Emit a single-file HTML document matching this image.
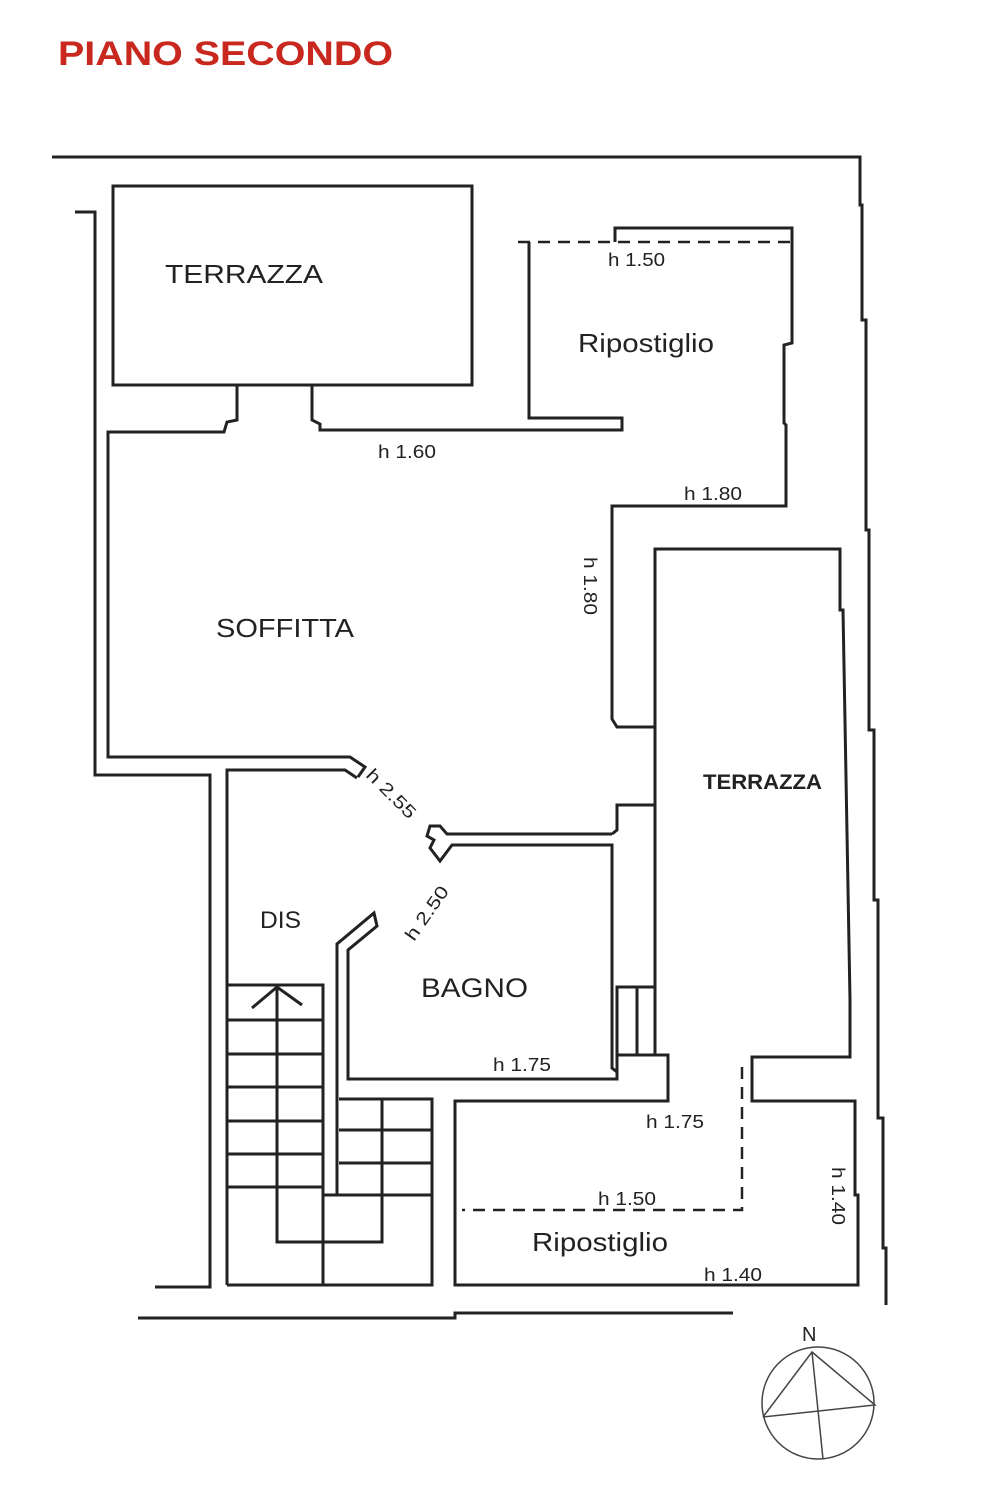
<!DOCTYPE html>
<html><head><meta charset="utf-8"><style>
html,body{margin:0;padding:0;background:#fff;}
svg{display:block;}
text{font-family:"Liberation Sans",sans-serif;fill:#222;}
</style></head><body>
<svg width="981" height="1500" viewBox="0 0 981 1500" xmlns="http://www.w3.org/2000/svg">
<text x="58" y="65" font-size="34" font-weight="bold" textLength="335" lengthAdjust="spacingAndGlyphs" style="fill:#c8281e">PIANO SECONDO</text>
<g fill="none" stroke="#222" stroke-width="3">
<polyline points="52,157 860,157 860,205 862,205 862,320 866,320 866,530 869,530 869,730 874,730 874,900 878,900 878,1118 883,1118 883,1248 886,1248 886,1305"/>
<polyline points="75,212 95,212 95,775 210,775 210,1287 155,1287"/>
<polyline points="138,1318 455,1318 455,1313 733,1313"/>
<rect x="113" y="186" width="359" height="199"/>
<polyline points="237,385 237,420 227,422 224,432 108,432 108,757 350,757 365,767 358,777"/>
<polyline points="312,385 312,420 320,424 320,430 622,430 622,418 529,418 529,242"/>
<polyline points="615,242 615,228 792,228 792,343 784,345 784,423 786,425 786,506 612,506 612,719 617,727 655,727"/>
<polyline points="227,1285 227,770 345,770 357,778"/>
<polyline points="612,834 447,834 440,826 430,826 427,836 434,840 430,848 440,861 452,845 612,845 612,1068 617,1072 617,1079 348,1079 348,950 377,926 374,913 337,944 337,1195"/>
<polyline points="612,834 617,830 617,805 655,805"/>
<polyline points="617,1072 617,987 655,987"/>
<line x1="637" y1="987" x2="637" y2="1055"/>
<polyline points="617,1055 668,1055 668,1101 455,1101 455,1285 858,1285 858,1195 855,1195 855,1101 752,1101 752,1057 850,1057 850,1000 843,610 840,610 840,549 655,549 655,1055"/>
<polyline points="227,985 323,985 323,1285"/>
<line x1="227" y1="1020" x2="323" y2="1020"/>
<line x1="227" y1="1054" x2="323" y2="1054"/>
<line x1="227" y1="1087" x2="323" y2="1087"/>
<line x1="227" y1="1121" x2="323" y2="1121"/>
<line x1="227" y1="1154" x2="323" y2="1154"/>
<line x1="227" y1="1187" x2="323" y2="1187"/>
<polyline points="277,985 277,1242 382,1242 382,1099"/>
<polyline points="252,1008 277,987 302,1005"/>
<polyline points="339,1099 432,1099 432,1285 227,1285"/>
<line x1="339" y1="1130" x2="432" y2="1130"/>
<line x1="339" y1="1163" x2="432" y2="1163"/>
<line x1="323" y1="1195" x2="432" y2="1195"/>
</g>
<g fill="none" stroke="#222" stroke-width="2.5" stroke-dasharray="12,8">
<line x1="518" y1="242" x2="792" y2="242"/>
<polyline points="742,1067 742,1210 462,1210"/>
</g>
<g fill="none" stroke="#444" stroke-width="1.5">
<circle cx="818" cy="1403" r="56"/>
<polyline points="763,1417 812,1352 875,1405 763,1417"/>
<line x1="812" y1="1352" x2="823" y2="1459"/>
</g>
<text x="802" y="1341" font-size="20">N</text>
<g style="font-weight:500">
<text x="165" y="283" font-size="26" textLength="158" lengthAdjust="spacingAndGlyphs">TERRAZZA</text>
<text x="578" y="352" font-size="26" textLength="136" lengthAdjust="spacingAndGlyphs">Ripostiglio</text>
<text x="216" y="637" font-size="26" textLength="138" lengthAdjust="spacingAndGlyphs">SOFFITTA</text>
<text x="703" y="789" font-size="21" font-weight="bold" textLength="119" lengthAdjust="spacingAndGlyphs">TERRAZZA</text>
<text x="260" y="928" font-size="24" textLength="41" lengthAdjust="spacingAndGlyphs">DIS</text>
<text x="421" y="997" font-size="27" textLength="107" lengthAdjust="spacingAndGlyphs">BAGNO</text>
<text x="532" y="1251" font-size="26" textLength="136" lengthAdjust="spacingAndGlyphs">Ripostiglio</text>
</g>
<g font-size="18">
<text x="608" y="266" textLength="57" lengthAdjust="spacingAndGlyphs">h 1.50</text>
<text x="378" y="458" textLength="58" lengthAdjust="spacingAndGlyphs">h 1.60</text>
<text x="684" y="500" textLength="58" lengthAdjust="spacingAndGlyphs">h 1.80</text>
<text x="493" y="1071" textLength="58" lengthAdjust="spacingAndGlyphs">h 1.75</text>
<text x="646" y="1128" textLength="58" lengthAdjust="spacingAndGlyphs">h 1.75</text>
<text x="598" y="1205" textLength="58" lengthAdjust="spacingAndGlyphs">h 1.50</text>
<text x="704" y="1281" textLength="58" lengthAdjust="spacingAndGlyphs">h 1.40</text>
<text transform="translate(584,557) rotate(90)" textLength="58" lengthAdjust="spacingAndGlyphs">h 1.80</text>
<text transform="translate(832,1167) rotate(90)" textLength="58" lengthAdjust="spacingAndGlyphs">h 1.40</text>
<text transform="translate(365,776) rotate(45)" textLength="62" lengthAdjust="spacingAndGlyphs">h 2.55</text>
<text transform="translate(414,942) rotate(-55)" textLength="62" lengthAdjust="spacingAndGlyphs">h 2.50</text>
</g>
</svg>
</body></html>
